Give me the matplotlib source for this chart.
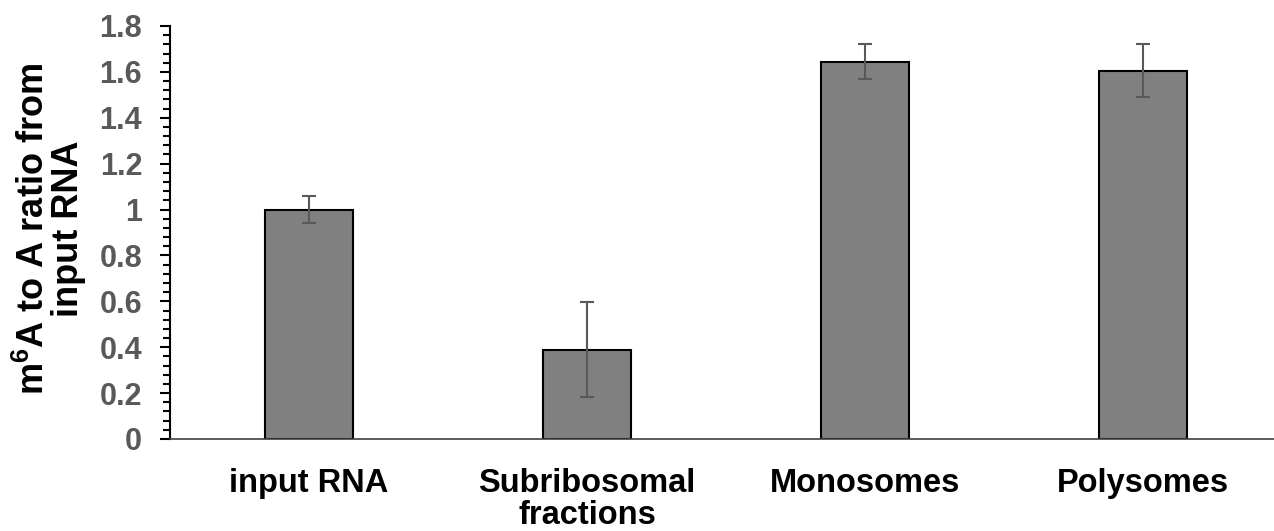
import matplotlib.pyplot as plt
from matplotlib.ticker import MultipleLocator

plt.rcParams['font.family'] = ['Liberation Sans', 'DejaVu Sans']
plt.rcParams['font.weight'] = 'bold'
plt.rcParams['mathtext.fontset'] = 'custom'
plt.rcParams['mathtext.bf'] = 'Liberation Sans:bold'
plt.rcParams['mathtext.rm'] = 'Liberation Sans:bold'

categories = ['input RNA', 'Subribosomal\nfractions', 'Monosomes', 'Polysomes']
ratios = [1.0, 0.39, 1.645, 1.605]
errors = [0.057, 0.205, 0.075, 0.115]
ytick_labels = ['0', '0.2', '0.4', '0.6', '0.8', '1', '1.2', '1.4', '1.6', '1.8']

fig = plt.figure(figsize=(12.74, 5.31), dpi=100)
ax = fig.add_axes([170 / 1274, 92 / 531, 1104 / 1274, 413 / 531])

x = range(len(categories))
ax.bar(x, ratios, width=0.316, color='#808080', edgecolor='black', linewidth=1.5,
       yerr=errors, error_kw=dict(ecolor='#595959', elinewidth=1.5, capsize=5, capthick=1.5),
       zorder=2)

ax.set_xlim(-0.5, 3.47)
ax.set_ylim(0, 1.8)
ax.set_yticks([i * 0.2 for i in range(len(ytick_labels))])
ax.set_yticklabels(ytick_labels)
ax.yaxis.set_minor_locator(MultipleLocator(0.04))
ax.tick_params(axis='y', which='major', direction='out', length=7, width=1.5,
               labelsize=22, labelcolor='#595959', pad=13)
ax.tick_params(axis='y', which='minor', direction='out', length=5, width=1.5)

ax.set_xticks(list(x))
ax.set_xticklabels(categories, fontsize=23.5, color='black', linespacing=1.05)
ax.tick_params(axis='x', length=0, pad=21)

for side in ['top', 'right']:
    ax.spines[side].set_visible(False)
ax.spines['left'].set_linewidth(1.5)
ax.spines['bottom'].set_linewidth(1.2)
ax.spines['bottom'].set_color('#404040')

ax.set_ylabel('m$^{6}$A to A ratio from\ninput RNA', fontsize=26, fontweight='bold',
              linespacing=0.95, labelpad=8)
ax.yaxis.set_label_coords(-0.076, 0.51)

fig.savefig('out.png', dpi=100)
